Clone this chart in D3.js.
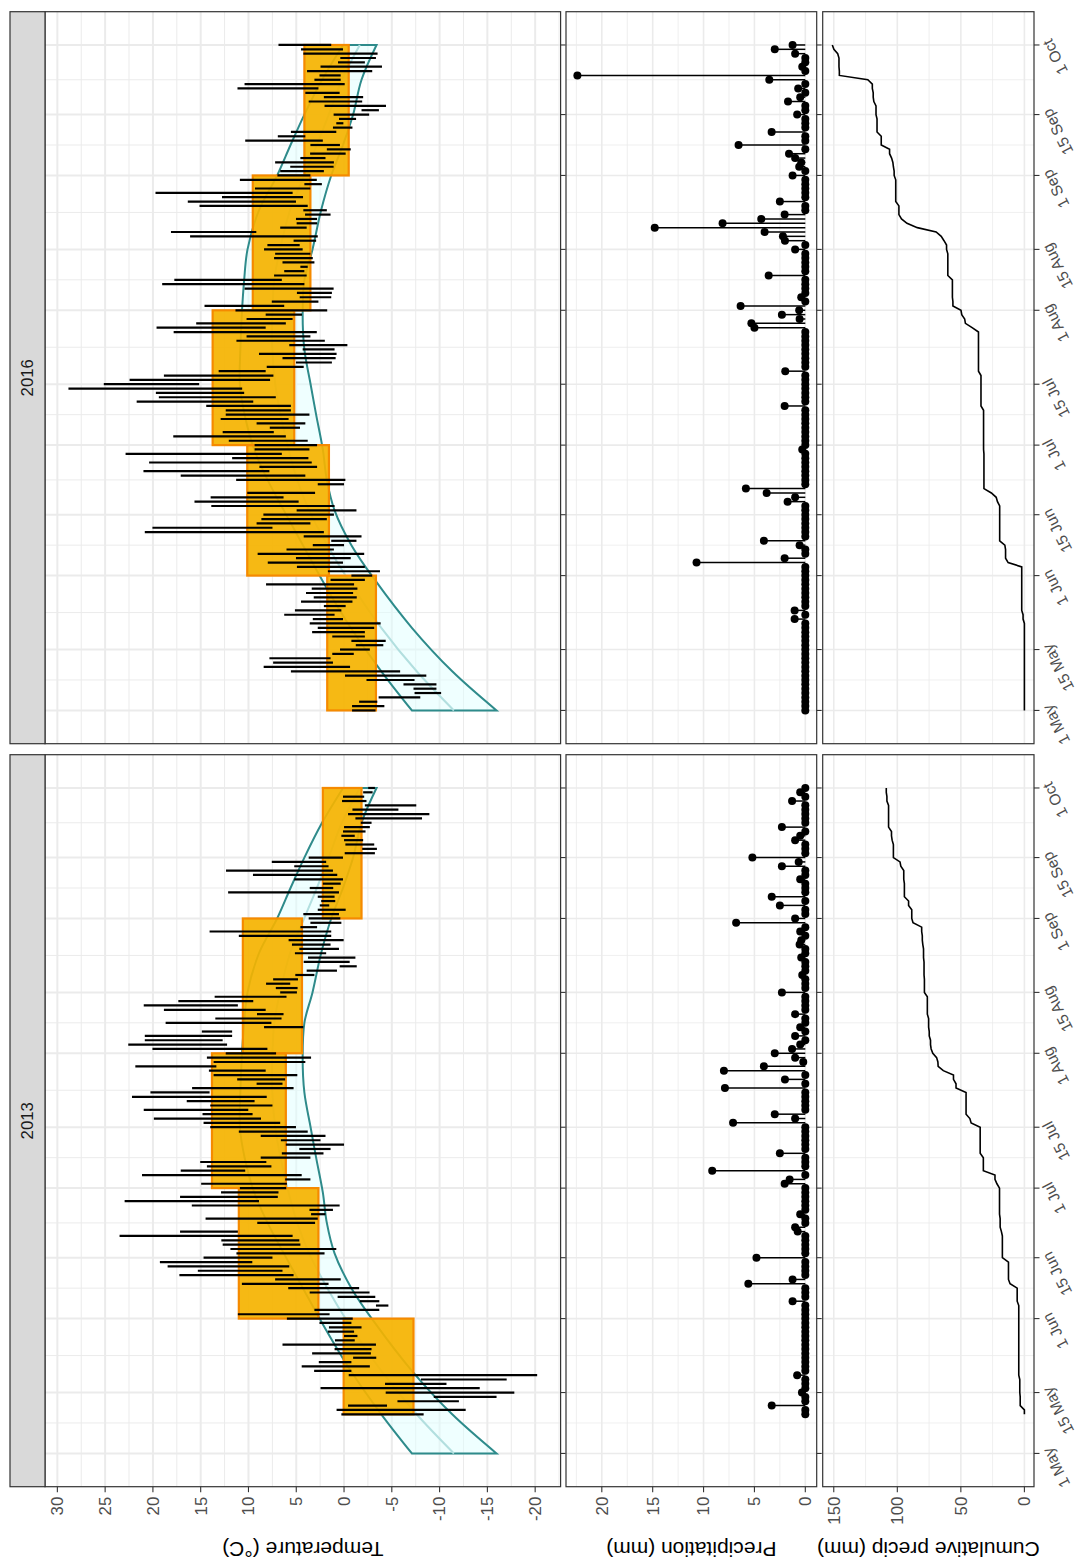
<!DOCTYPE html>
<html><head><meta charset="utf-8">
<script src="https://cdn.jsdelivr.net/npm/d3@7"></script>
<style>
body{margin:0;background:#fff}
svg{display:block}
text{font-family:"Liberation Sans",Arial,Helvetica,sans-serif}
</style>
</head><body>
<svg id="chart" width="1078" height="1566"></svg>
<script>
// ---------------- DATA ----------------
const years = [2013, 2016];
const tickDates = ["05-01","05-15","06-01","06-15","07-01","07-15","08-01","08-15","09-01","09-15","10-01"];
const tickLabels = ["1 May","15 May","1 Jun","15 Jun","1 Jul","15 Jul","1 Aug","15 Aug","1 Sep","15 Sep","1 Oct"];
const tempTicks = [-20,-15,-10,-5,0,5,10,15,20,25,30];
const precipTicks = [0,5,10,15,20];
const cumTicks = [0,50,100,150];

// daily values, index 0 = 1 May ... 153 = 1 Oct
const tmax2013 = [null,null,null,null,null,null,null,null,null,0.28,
0.78,-0.42,-5.59,-9.39,-4.36,2.46,-4.29,-8.05,-0.49,3.13,
4.43,2.64,-0.95,3.34,0.99,6.44,0.95,0.0,1.69,1.58,
2.57,5.98,11.11,3.10,-3.34,-1.65,0.67,3.59,5.84,10.69,
7.21,17.23,15.30,18.46,19.27,14.70,11.26,11.89,12.70,12.84,
23.49,17.16,null,9.08,14.49,3.45,3.62,15.93,22.96,17.16,
12.87,10.90,14.95,6.16,21.14,17.09,14.35,15.05,8.72,6.51,
4.68,6.09,6.61,8.72,11.01,14.00,14.70,19.90,14.81,20.96,
14.00,16.46,22.19,20.26,15.90,9.15,11.18,13.65,14.14,21.84,
13.65,14.35,12.38,20.05,22.58,20.85,20.85,14.88,8.37,18.67,
13.47,9.11,18.85,20.96,17.34,13.54,6.68,7.14,8.16,7.42,
5.10,3.91,0.46,4.22,3.77,5.14,4.68,5.45,5.80,11.01,
14.07,4.57,3.52,3.70,4.26,2.75,2.54,2.39,2.75,12.13,
3.59,2.22,5.21,9.53,12.35,5.21,7.56,3.70,-0.07,-1.90,
-0.14,0.0,0.28,0.11,0.0,-1.75,-1.19,-0.42,-0.88,-2.18,
0.21,0.11,-2.0,-2.53];
const tmin2013 = [null,null,null,null,null,null,null,null,null,-8.33,
-12.73,-4.50,-12.02,-15.96,-17.82,-14.20,-10.72,-17.02,-20.21,-0.77,
-2.70,-0.77,-3.37,-2.81,-2.88,-3.34,-1.12,-1.40,-1.05,-1.83,
-0.77,-0.91,1.51,-3.69,-4.64,-3.69,-3.27,-2.67,-1.58,1.62,
0.35,5.28,6.44,5.73,9.60,7.49,2.04,0.81,4.57,4.68,
5.38,11.11,null,3.03,2.75,1.94,1.16,0.46,8.90,6.93,
6.86,6.05,5.98,3.52,4.43,10.34,7.60,8.13,3.52,2.15,
1.41,0.00,2.46,1.94,3.80,5.03,6.68,8.69,9.57,10.02,
7.49,9.36,8.09,14.07,5.28,6.44,6.16,4.89,8.20,13.36,
4.05,3.45,7.11,8.02,12.24,12.70,11.71,11.71,4.26,7.60,
6.54,6.33,8.20,11.11,9.50,6.02,4.93,4.86,5.63,4.82,
3.10,0.74,-1.33,-0.59,-1.19,1.87,0.53,1.41,0.04,1.34,
1.34,2.82,0.28,0.39,0.53,-0.17,1.55,0.92,0.99,0.53,
1.13,0.35,0.11,0.71,1.16,1.62,1.87,0.11,-3.23,-3.44,
-3.16,-2.0,-1.12,-2.25,-2.70,-2.88,-8.16,-8.93,-5.69,-7.56,
-2.35,-2.11,-2.99,-3.23];
const tmax2016 = [-0.84,-0.84,-1.58,-3.62,-7.38,-7.27,-6.22,-2.35,-0.10,5.56,
8.41,7.42,7.81,1.23,0.42,-1.23,-0.77,1.23,3.34,2.75,
3.59,3.27,6.26,5.14,2.11,4.50,3.17,3.98,3.38,8.16,
1.41,-0.77,1.69,4.93,7.98,5.03,9.04,6.02,3.27,1.34,
4.22,20.85,20.05,9.15,8.65,8.44,4.96,13.89,15.65,13.96,
10.13,null,2.75,11.29,17.09,20.99,8.86,20.40,11.71,22.86,
9.36,9.36,12.06,17.87,12.70,7.77,9.15,12.91,12.38,12.38,
14.42,21.70,19.38,19.69,28.84,25.14,22.44,18.85,13.12,8.09,
5.03,6.44,8.90,4.33,5.73,11.26,10.20,17.83,19.62,15.47,
10.20,8.20,11.36,14.60,7.56,4.64,4.93,10.41,19.03,17.76,
7.32,6.26,4.57,6.44,7.32,7.21,8.37,8.02,5.28,16.11,
18.11,6.68,4.96,5.03,4.08,4.26,15.12,16.35,12.77,19.73,
9.32,4.15,10.90,6.97,6.68,5.63,7.21,4.57,3.55,1.80,
3.52,10.34,6.93,5.56,1.16,0.81,0.53,1.09,-1.83,2.04,
3.70,2.11,4.05,11.15,10.41,3.10,2.57,3.87,2.46,0.63,
0.39,4.26,4.50,6.86];
const tmin2016 = [-3.30,-4.22,-3.48,-7.98,-10.16,-9.67,-9.67,-7.38,-8.61,-5.87,
-0.63,1.16,1.41,-1.02,-2.70,-4.11,-4.36,-2.18,-2.18,-3.16,
-3.83,0.11,0.99,0.28,-0.17,-0.88,-1.33,-0.95,-1.40,-1.05,
-2.18,-2.95,-3.76,-2.18,0.11,-0.70,-2.11,1.06,0.0,-1.30,
-1.83,2.11,7.49,3.52,1.80,1.06,-1.30,0.99,4.75,6.33,
3.03,null,0.0,-0.14,4.05,7.81,2.82,3.38,3.73,6.51,
3.62,2.82,3.80,6.09,7.35,4.61,4.05,5.80,3.62,5.56,
5.56,9.50,7.14,10.45,10.66,15.16,7.74,7.39,8.20,4.22,
1.27,0.88,0.78,0.99,-0.35,2.01,3.52,2.85,8.20,6.09,
5.38,4.40,1.76,6.26,2.68,1.34,1.27,1.09,4.15,6.51,
3.91,4.15,3.80,3.10,3.27,3.52,4.33,4.64,2.92,2.75,
9.18,3.91,2.82,2.82,1.41,1.80,3.80,5.03,4.29,5.38,
3.52,2.32,2.85,3.52,2.11,1.09,1.06,1.94,-0.17,-0.70,
0.43,2.22,4.05,0.81,-0.88,0.07,-1.26,-2.63,-3.65,-4.39,
-1.90,-2.00,0.46,2.68,-0.07,0.35,0.35,-2.95,-3.97,-2.18,
-3.34,-3.51,0.11,1.34];
const precip2013 = [null,null,null,null,null,null,null,null,null,0,
0,3.3,0,0,0.33,0,0,0,0.8,0,
0,0,0,0,0,0,0,0,0,0,
0,0,0,0,0,1.25,0,0,0,5.6,
1.25,0,0,0,0,4.8,0,0,0,0,
0,0.75,1.0,0,0,0.5,0,0,0,0,
0,0,2.03,1.54,0,9.15,0,0,0,2.5,
0,0,0,0,0,0,7.1,1.0,3.0,0,
0,0,0,0,7.9,0,2.0,0,8.0,4.07,
0.2,1.0,3.0,1.3,0.5,0,1.0,0,0.5,0,
0,1.0,0,0,0,0,2.3,0,0,0,
0.3,0,0,0,0.4,0,0,0.56,0.4,0,
0.5,0,6.8,1.0,0,0,2.5,0,3.3,0,
0,0,0.5,0,0,2.3,0.65,5.2,0,0,
0,1.0,0.5,0,2.3,0,0,0,0,0,
1.3,0,0.5,0];
const precip2016 = [0,0,0,0,0,0,0,0,0,0,
0,0,0,0,0,0,0,0,0,0,
0,1.05,0,1.05,0,0,0,0,0,0,
0,0,0,0,10.69,2.03,0,0,0.56,4.07,
0,0,0,0,0,0,0,0,1.74,1.0,
3.8,5.84,0,0,0,0,0,0,0,0,
0.3,0,0,0,0,0,0,0,0,0,
2.03,0,0,0,0,0,0,0,1.97,0,
0,0,0,0,0,0,0,0,5.0,5.3,
0.56,2.3,0.6,6.36,0,0.4,0,0,0,0,
3.6,0,0,0,0,0,1.0,0,2.0,2.2,
4.0,14.8,8.13,4.33,2.03,0,0,2.5,0,0,
0,0,0,1.25,0,0.6,0.4,1.0,1.6,0,
6.56,0,0,3.31,0,0,0,0.8,0,0,
1.7,0.5,0,0.7,0,3.54,22.4,0,0.3,0,
0,1.0,3.0,1.25];

// monthly boxes (mean min .. mean max)
const rectStart2013 = ["05-10","06-01","07-01","08-01","09-01"];
const rectStart2016 = ["05-01","06-01","07-01","08-01","09-01"];
const rectEnd = ["06-01","07-01","08-01","09-01","10-01"];
const rectLow2013 = [-7.27, 2.68, 6.09, 4.40, -1.83];
const rectHigh2013 = [0.04, 11.01, 13.82, 10.59, 2.22];
const rectLow2016 = [-3.34, 1.58, 5.21, 3.52, -0.49];
const rectHigh2016 = [1.76, 10.13, 13.75, 9.55, 4.15];

// climatology band (day offset from 1 May)
const climDays = [0, 9, 19, 30, 38, 46, 53, 60, 68, 75, 83, 91, 99, 106, 115, 123, 130, 137, 145, 153];
const climLow  = [-15.96,-11.32,-7.1,-3.23,-0.77,0.99,1.8,2.22,2.92,3.5,4.15,4.33,4.15,3.3,2.4,1.34,0.11,-0.95,-1.83,-3.4];
const climMid  = [-11.5,-7.6,-3.9,-0.45,1.75,3.65,4.9,5.8,6.65,7.2,7.5,7.5,7.3,6.7,5.65,4.17,2.85,1.6,0.23,-1.65];
const climHigh = [-7.1,-3.9,-0.7,2.3,4.3,6.3,8.0,9.4,10.4,10.9,10.85,10.7,10.45,10.1,8.9,7.0,5.6,4.15,2.3,0.1];

// ---------------- LAYOUT (unrotated frame 1566 x 1078) ----------------
const W = 1566, H = 1078;
const facetLeft = [79.3, 822.3], facetW = 732;
const stripY = [10, 45];
const rowTemp = [45, 560.6], rowPrec = [566, 816.7], rowCum = [822.7, 1034];
const gridCol = "#EBEBEB", borderCol = "#333333", tickTextCol = "#4D4D4D";
const tickFont = 16.8, dateFont = 15.5, titleFont = 21;

const svg = d3.select("#chart");
const root = svg.append("g").attr("transform", `translate(0,${1566}) rotate(-90)`);
root.append("rect").attr("x",0).attr("y",0).attr("width",W).attr("height",H).attr("fill","#fff");

const dayMs = 86400000;
const dayDate = (y, i) => new Date(Date.UTC(y, 4, 1 + i));
const mdDate = (y, md) => new Date(Date.UTC(y, +md.slice(0,2) - 1, +md.slice(3)));

// value scales (shared)
const allT = [...tmax2013, ...tmin2013, ...tmax2016, ...tmin2016].filter(v => v != null);
const tLo = d3.min(allT), tHi = d3.max(allT), tPad = (tHi - tLo) * 0.05;
const yT = d3.scaleLinear().domain([tLo - tPad, tHi + tPad]).range([rowTemp[1], rowTemp[0]]);
const allP = [...precip2013, ...precip2016].filter(v => v != null);
const pHi = d3.max(allP), pPad = pHi * 0.05;
const yP = d3.scaleLinear().domain([-pPad, pHi + pPad]).range([rowPrec[1], rowPrec[0]]);
const cum2013 = (() => { let s = 0; return precip2013.map(v => v == null ? null : (s += v)); })();
const cum2016 = (() => { let s = 0; return precip2016.map(v => v == null ? null : (s += v)); })();
const cHi = d3.max([...cum2013, ...cum2016].filter(v => v != null)), cPad = cHi * 0.05;
const yC = d3.scaleLinear().domain([-cPad, cHi + cPad]).range([rowCum[1], rowCum[0]]);

function minorVals(ticks, scale) {
  const step = ticks[1] - ticks[0];
  const out = [];
  const [a, b] = scale.domain();
  for (let v = ticks[0] - step / 2; v <= ticks[ticks.length - 1] + step / 2 + 1e-9; v += step) {
    if (v >= a && v <= b) out.push(v);
  }
  return out;
}

function panelGrid(g, xs, ys, yTicks, majorW, minorW, dMajor, dMinor) {
  const [x0, x1] = xs.range(), [y1, y0] = ys.range();
  g.append("rect").attr("x", x0).attr("y", y0).attr("width", x1 - x0).attr("height", y1 - y0).attr("fill", "#fff");
  const ymin = minorVals(yTicks, ys);
  g.selectAll(null).data(ymin).join("line").attr("x1", x0).attr("x2", x1)
    .attr("y1", d => ys(d)).attr("y2", d => ys(d)).attr("stroke", gridCol).attr("stroke-width", minorW);
  g.selectAll(null).data(dMinor).join("line").attr("y1", y0).attr("y2", y1)
    .attr("x1", d => xs(d)).attr("x2", d => xs(d)).attr("stroke", gridCol).attr("stroke-width", minorW);
  g.selectAll(null).data(yTicks).join("line").attr("x1", x0).attr("x2", x1)
    .attr("y1", d => ys(d)).attr("y2", d => ys(d)).attr("stroke", gridCol).attr("stroke-width", majorW);
  g.selectAll(null).data(dMajor).join("line").attr("y1", y0).attr("y2", y1)
    .attr("x1", d => xs(d)).attr("x2", d => xs(d)).attr("stroke", gridCol).attr("stroke-width", majorW);
}

function panelBorder(g, xs, ys) {
  const [x0, x1] = xs.range(), [y1, y0] = ys.range();
  g.append("rect").attr("x", x0).attr("y", y0).attr("width", x1 - x0).attr("height", y1 - y0)
    .attr("fill", "none").attr("stroke", borderCol).attr("stroke-width", 1.2);
}

function bottomTicks(g, xs, dMajor, yBase, len) {
  g.selectAll(null).data(dMajor).join("line")
    .attr("x1", d => xs(d)).attr("x2", d => xs(d)).attr("y1", yBase).attr("y2", yBase + len)
    .attr("stroke", borderCol).attr("stroke-width", 1.1);
}

function leftAxis(g, ys, ticks, x0) {
  g.selectAll(null).data(ticks).join("line")
    .attr("x1", x0 - 5.5).attr("x2", x0).attr("y1", d => ys(d)).attr("y2", d => ys(d))
    .attr("stroke", borderCol).attr("stroke-width", 1.1);
  g.selectAll(null).data(ticks).join("text")
    .attr("x", x0 - 10).attr("y", d => ys(d)).attr("dy", "0.35em")
    .attr("text-anchor", "end").attr("font-size", tickFont).attr("fill", tickTextCol)
    .text(d => d);
}

years.forEach((yr, fi) => {
  const L = facetLeft[fi];
  const g = root.append("g");
  const start = dayDate(yr, 0), end = dayDate(yr, 153);
  const pad = 153 * 0.05 * dayMs;
  const xs = d3.scaleUtc().domain([new Date(+start - pad), new Date(+end + pad)]).range([L, L + facetW]);
  const dMajor = tickDates.map(md => mdDate(yr, md));
  const dMinor = d3.pairs(dMajor).map(([a, b]) => new Date((+a + +b) / 2));

  const tmax = yr === 2013 ? tmax2013 : tmax2016;
  const tmin = yr === 2013 ? tmin2013 : tmin2016;
  const prec = yr === 2013 ? precip2013 : precip2016;
  const cum = yr === 2013 ? cum2013 : cum2016;
  const rS = yr === 2013 ? rectStart2013 : rectStart2016;
  const rLo = yr === 2013 ? rectLow2013 : rectLow2016;
  const rHi = yr === 2013 ? rectHigh2013 : rectHigh2016;

  // ---- temperature panel ----
  const ysT = yT.copy();
  const gT = g.append("g");
  panelGrid(gT, xs, ysT, tempTicks, 2.0, 1.0, dMajor, dMinor);
  const clim = climDays.map((d, i) => ({ date: dayDate(yr, d), lo: climLow[i], mid: climMid[i], hi: climHigh[i] }));
  const areaGen = d3.area().x(d => xs(d.date)).y0(d => ysT(d.lo)).y1(d => ysT(d.hi)).curve(d3.curveCatmullRom);
  gT.append("path").datum(clim).attr("d", areaGen)
    .attr("fill", "#E0FFFF").attr("fill-opacity", 0.5).attr("stroke", "none");
  gT.append("path").datum(clim).attr("d", areaGen)
    .attr("fill", "none").attr("stroke", "#2E8B8B").attr("stroke-width", 2);
  gT.append("path").datum(clim)
    .attr("d", d3.line().x(d => xs(d.date)).y(d => ysT(d.mid)).curve(d3.curveCatmullRom))
    .attr("fill", "none").attr("stroke", "#B2DFDF").attr("stroke-width", 2);
  gT.selectAll(null).data(rS.map((s, i) => ({ s: mdDate(yr, s), e: mdDate(yr, rectEnd[i]), lo: rLo[i], hi: rHi[i] })))
    .join("rect")
    .attr("x", d => xs(d.s)).attr("width", d => xs(d.e) - xs(d.s))
    .attr("y", d => ysT(d.hi)).attr("height", d => ysT(d.lo) - ysT(d.hi))
    .attr("fill", "#F5B300").attr("fill-opacity", 0.92)
    .attr("stroke", "#F58A00").attr("stroke-width", 2.2);
  const tdata = tmax.map((v, i) => ({ date: dayDate(yr, i), hi: v, lo: tmin[i] })).filter(d => d.hi != null && d.lo != null);
  gT.selectAll(null).data(tdata).join("line")
    .attr("x1", d => xs(d.date)).attr("x2", d => xs(d.date))
    .attr("y1", d => ysT(d.lo)).attr("y2", d => ysT(d.hi))
    .attr("stroke", "#000").attr("stroke-width", 2.2);
  panelBorder(gT, xs, ysT);
  bottomTicks(gT, xs, dMajor, rowTemp[1], 5);

  // strip
  g.append("rect").attr("x", L).attr("y", stripY[0]).attr("width", facetW).attr("height", stripY[1] - stripY[0])
    .attr("fill", "#D9D9D9").attr("stroke", borderCol).attr("stroke-width", 1.2);
  g.append("text").attr("x", L + facetW / 2).attr("y", (stripY[0] + stripY[1]) / 2).attr("dy", "0.35em")
    .attr("text-anchor", "middle").attr("font-size", tickFont).attr("fill", "#1A1A1A").text(yr);

  // ---- precipitation panel ----
  const gP = g.append("g");
  panelGrid(gP, xs, yP, precipTicks, 1.6, 0.8, dMajor, dMinor);
  const pdata = prec.map((v, i) => ({ date: dayDate(yr, i), v })).filter(d => d.v != null);
  gP.selectAll(null).data(pdata).join("line")
    .attr("x1", d => xs(d.date)).attr("x2", d => xs(d.date))
    .attr("y1", yP(0)).attr("y2", d => yP(d.v))
    .attr("stroke", "#000").attr("stroke-width", 1.5);
  gP.selectAll(null).data(pdata).join("circle")
    .attr("cx", d => xs(d.date)).attr("cy", d => yP(d.v)).attr("r", 4).attr("fill", "#000");
  panelBorder(gP, xs, yP);
  bottomTicks(gP, xs, dMajor, rowPrec[1], 5);

  // ---- cumulative panel ----
  const gC = g.append("g");
  panelGrid(gC, xs, yC, cumTicks, 1.6, 0.8, dMajor, dMinor);
  const cdata = cum.map((v, i) => ({ date: dayDate(yr, i), v })).filter(d => d.v != null);
  gC.append("path").datum(cdata)
    .attr("d", d3.line().x(d => xs(d.date)).y(d => yC(d.v)))
    .attr("fill", "none").attr("stroke", "#000").attr("stroke-width", 1.6);
  panelBorder(gC, xs, yC);
  bottomTicks(gC, xs, dMajor, rowCum[1], 5.5);
  gC.selectAll(null).data(dMajor).join("text")
    .attr("transform", (d) => `translate(${xs(d) + 2},${rowCum[1] + 7.5}) rotate(-27)`)
    .attr("dy", "0.72em").attr("text-anchor", "end")
    .attr("font-size", dateFont).attr("fill", tickTextCol)
    .text((d, i) => tickLabels[i]);

  if (fi === 0) {
    leftAxis(g, yT, tempTicks, L);
    leftAxis(g, yP, precipTicks, L);
    leftAxis(g, yC, cumTicks, L);
  }
});

// axis titles
const titles = [
  ["Temperature (\u00B0C)", (rowTemp[0] + rowTemp[1]) / 2],
  ["Precipitation (mm)", (rowPrec[0] + rowPrec[1]) / 2],
  ["Cumulative precip (mm)", (rowCum[0] + rowCum[1]) / 2]
];
root.selectAll(null).data(titles).join("text")
  .attr("transform", d => `translate(24,${d[1]}) rotate(-90)`)
  .attr("text-anchor", "middle").attr("font-size", titleFont).attr("fill", "#000")
  .text(d => d[0]);
</script>
</body></html>
